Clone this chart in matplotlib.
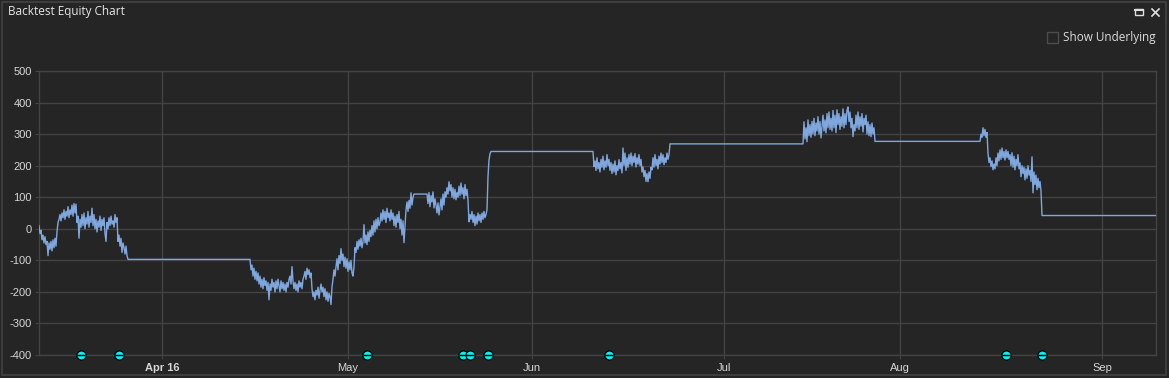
import numpy as np
import matplotlib
matplotlib.use("Agg")
import matplotlib.pyplot as plt
from matplotlib.patches import Rectangle
from matplotlib.lines import Line2D

# equity curve, one value per bar; flat stretches are simply the line joining two segments
seg_a_start = 0
seg_a = [10, -15, -5, -35, -20, -45, -25, -50, -40,
         -85, -45, -65, -40, -70, -35, -60, -30, -55,
         -10, 20, 30, 45, 25, 50, 35, 60, 30,
         55, 40, 70, 35, 60, 45, 75, 40, 80,
         50, 78, 20, 40, -30, 30, 5, 45, 10,
         50, 0, 35, 15, 55, 5, 40, 20, 65,
         10, 45, 0, 30, -10, 25, 5, 40, -5,
         30, 10, 35, -15, -40, 20, 0, 35, 10,
         40, 15, 25, 5, 45, 20, 35, -40, -20,
         -55, -30, -75, -45, -60, -80, -55, -85, -97]

seg_b_start = 211
seg_b = [-97, -130, -115, -150, -125, -160, -135, -165, -140,
         -175, -150, -185, -160, -190, -155, -180, -165, -195,
         -170, -225, -175, -195, -160, -185, -170, -200, -165,
         -190, -160, -180, -200, -165, -190, -170, -195, -175,
         -200, -170, -185, -160, -150, -175, -120, -165, -190,
         -170, -195, -175, -200, -165, -185, -170, -190, -160,
         -150, -135, -160, -125, -145, -130, -155, -140, -190,
         -215, -200, -225, -195, -210, -185, -220, -195, -175,
         -200, -185, -215, -190, -225, -200, -230, -205, -215,
         -240, -185, -160, -130, -150,
         -120, -95, -130, -85, -110, -63, -100, -80, -120,
         -90, -125, -95, -135, -105, -130, -100, -140, -150,
         -120, -60, -75, -40, -65, -35, -55, -30, -60,
         -40, 13, -45, -20, -50, -10, -40, -5, -25,
         10, -20, 25, -10, 30, 0, 35, 10, 20,
         50, 25, 60, 30, 55, 20, 65, 35, 50,
         25, 60, 30, 50, 10, 40, 5, 45, 20,
         55, 0, 30, -20, 25, -44, 10, 60, 85,
         55, 90, 65, 114, 75, 100, 110,
         110, 110, 110, 110, 110, 110, 110, 110, 110, 110, 110, 110, 110,
         80, 115, 70, 105, 85, 117, 66, 95, 75,
         50, 82, 44, 70, 95, 60, 110, 75, 117,
         100, 130, 110, 149, 120, 140, 100, 130, 95,
         125, 92, 115, 100, 135, 105, 145, 110, 130,
         95, 140, 105, 125, 90, 22, 45, 30, 55,
         20, 45, 10, 40, 15, 50, 25, 45, 20,
         50, 30, 55, 35, 45, 60, 165, 218, 238, 245]

seg_c_start = 554
seg_c = [245,
         197, 215, 185, 225, 190, 210, 180, 220, 195,
         230, 187, 215, 195, 235, 200, 220, 185, 210,
         175, 205, 180, 215, 171, 200, 185, 219, 190,
         210, 177, 256, 200, 240, 185, 225, 195, 235,
         205, 240, 200, 230, 210, 238, 196, 225, 205,
         235, 200, 220, 180, 196, 165, 185, 150, 175,
         149, 180, 160, 195, 187, 225, 195, 235, 200,
         220, 190, 230, 205, 240, 210, 235, 203, 225,
         210, 240, 220, 235, 269, 269]

seg_d_start = 764
seg_d = [269,
         339, 285, 320, 276, 345, 295, 330, 290, 340,
         300, 350, 295, 335, 310, 355, 300, 340, 288,
         325, 360, 310, 345, 304, 365, 320, 370, 315,
         350, 310, 375, 320, 360, 305, 377, 330, 365,
         315, 355, 325, 380, 320, 365, 330, 375, 386,
         340, 370, 320, 350, 292, 330, 310, 360, 320,
         370, 315, 355, 325, 365, 307, 350, 330, 360,
         300, 339, 295, 330, 292, 335, 300, 320, 277]

seg_e_start = 941
seg_e = [277,
         300, 290, 320, 295, 315, 290, 305, 240, 210,
         225, 197, 215, 187, 205, 190, 225, 200, 240,
         215, 250, 220, 256, 225, 245, 218, 250, 225,
         245, 220, 235, 200, 241, 195, 230, 187, 220,
         200, 235, 190, 209, 165, 200, 175, 195, 155,
         190, 160, 200, 170, 185, 150, 228, 114, 180,
         140, 170, 124, 160, 130, 150, 120, 42]

last_bar = 1117
last_value = 42

# trade markers (bar index)
trade_bars = [42, 80, 328, 424, 431, 449, 570, 967, 1003]

tick_bars = [123, 309, 493, 685, 861, 1063]
tick_labels = ["Apr 16", "May", "Jun", "Jul", "Aug", "Sep"]
y_ticks = [-400, -300, -200, -100, 0, 100, 200, 300, 400, 500]

bars = []
equity = []
for start, vals in [(seg_a_start, seg_a), (seg_b_start, seg_b), (seg_c_start, seg_c),
                    (seg_d_start, seg_d), (seg_e_start, seg_e)]:
    bars.extend(np.arange(start, start + len(vals)))
    equity.extend(vals)
bars.append(last_bar)
equity.append(last_value)

bg = "#252525"
grid_c = "#434343"
text_c = "#d6d6d6"

W, H = 1169, 378
fig = plt.figure(figsize=(W / 100, H / 100), dpi=100, facecolor=bg)

# outer panel border
fig.patches.append(Rectangle((2 / W, 3 / H), 1164 / W, 373 / H, transform=fig.transFigure,
                             fill=False, edgecolor="#3d3d3d", lw=1.5))

ax = fig.add_axes([39 / W, (H - 355) / H, (1156 - 39) / W, (355 - 71) / H])
ax.set_facecolor(bg)
ax.plot(bars, equity, color="#7fa7dd", lw=1.0, zorder=3)

ax.plot(trade_bars, [-400] * len(trade_bars), "o", ms=6.5, mfc="#00f2f2", mec="black",
        mew=0.8, clip_on=False, zorder=5)
ax.plot(trade_bars, [-400] * len(trade_bars), "_", ms=5.5, mec="black", mew=1.0,
        clip_on=False, zorder=6)

ax.set_xlim(0, last_bar)
ax.set_ylim(-400, 500)
ax.set_yticks(y_ticks)
ax.set_yticklabels([str(v) for v in y_ticks])
ax.set_xticks(tick_bars)
ax.set_xticklabels(tick_labels)
ax.get_xticklabels()[0].set_fontweight("bold")
ax.grid(True, color=grid_c, lw=1.0)
ax.set_axisbelow(True)
for s in ax.spines.values():
    s.set_color(grid_c)
    s.set_linewidth(1.0)
ax.tick_params(axis="both", colors=grid_c, labelcolor=text_c, labelsize=8, length=3)
ax.tick_params(axis="x", pad=3)
ax.tick_params(axis="y", pad=2)
for lab in ax.get_xticklabels() + ax.get_yticklabels():
    lab.set_fontfamily("Liberation Sans")

fig.text(8 / W, 1 - 12 / H, "Backtest Equity Chart", color="#e6e6e6", fontsize=8.5,
         family="Open Sans", va="center", ha="left")
fig.text(1063 / W, 1 - 38 / H, "Show Underlying", color="#dcdcdc", fontsize=8.5,
         family="Open Sans", va="center", ha="left")
fig.patches.append(Rectangle((1047 / W, 1 - 43 / H), 11 / W, 11 / H, transform=fig.transFigure,
                             fill=False, edgecolor="#4c4c4c", lw=1.0))

# window buttons
fig.patches.append(Rectangle((1135 / W, 1 - 15 / H), 8 / W, 6 / H, transform=fig.transFigure,
                             fill=False, edgecolor="#e0e0e0", lw=1.0))
fig.lines.append(Line2D([1135 / W, 1143 / W], [1 - 9.5 / H, 1 - 9.5 / H], transform=fig.transFigure,
                        color="#e0e0e0", lw=1.5))
fig.lines.append(Line2D([1152 / W, 1159 / W], [1 - 9 / H, 1 - 16 / H], transform=fig.transFigure,
                        color="#e0e0e0", lw=1.2))
fig.lines.append(Line2D([1152 / W, 1159 / W], [1 - 16 / H, 1 - 9 / H], transform=fig.transFigure,
                        color="#e0e0e0", lw=1.2))

fig.savefig("out.png", dpi=100, facecolor=bg)
